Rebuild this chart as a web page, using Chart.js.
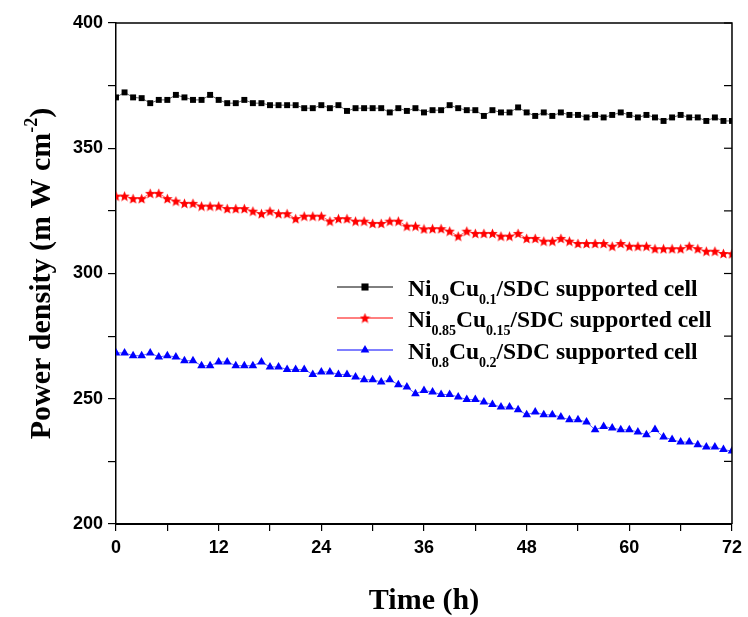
<!DOCTYPE html>
<html>
<head>
<meta charset="utf-8">
<script src="https://cdn.jsdelivr.net/npm/chart.js@4.4.0/dist/chart.umd.min.js"></script>
<style>
  html, body { margin: 0; padding: 0; background: #fff; }
  canvas { display: block; }
</style>
</head>
<body>
<canvas id="chart" width="748" height="617"></canvas>
<script>
// time in hours, one reading per hour
const hours = [];
for (let h = 0; h <= 72; h++) hours.push(h);

const ni09 = [370.3, 372.3, 370.3, 370.0, 368.0, 369.3, 369.3, 371.3, 370.3, 369.3,
  369.3, 371.3, 369.3, 368.0, 368.0, 369.3, 368.0, 368.0, 367.2, 367.2,
  367.2, 367.2, 366.0, 366.0, 367.2, 366.0, 367.2, 364.9, 366.0, 366.0,
  366.0, 366.0, 364.3, 366.0, 364.9, 366.0, 364.3, 365.2, 365.2, 367.2,
  366.0, 365.2, 365.2, 362.9, 365.2, 364.3, 364.3, 366.3, 364.3, 362.9,
  364.3, 362.9, 364.3, 363.3, 363.3, 362.3, 363.3, 362.3, 363.3, 364.3,
  363.3, 362.3, 363.3, 362.3, 360.9, 362.3, 363.3, 362.3, 362.3, 360.9,
  362.3, 360.9, 360.9];

const ni085 = [330.9, 330.9, 329.9, 329.9, 332.0, 332.0, 329.9, 328.9, 328.0, 328.0,
  326.9, 326.9, 326.9, 325.9, 325.9, 325.9, 324.9, 323.9, 324.9, 323.9,
  323.9, 321.9, 322.9, 322.9, 322.9, 320.9, 321.9, 321.9, 320.9, 320.9,
  320.0, 320.0, 320.9, 320.9, 318.9, 318.9, 317.8, 317.9, 317.9, 316.9,
  314.9, 316.9, 316.0, 316.0, 316.0, 314.9, 314.9, 316.0, 314.0, 314.0,
  312.9, 312.9, 314.0, 312.9, 312.0, 312.0, 312.0, 312.0, 310.9, 312.0,
  310.9, 310.9, 310.9, 309.9, 309.9, 309.9, 309.9, 310.9, 309.9, 308.9,
  308.9, 308.0, 307.9];

const ni08 = [268.3, 268.3, 267.2, 267.2, 268.3, 266.7, 267.2, 266.7, 265.2, 265.2,
  263.2, 263.2, 264.7, 264.7, 263.2, 263.2, 263.2, 264.7, 262.7, 262.7,
  261.7, 261.7, 261.7, 259.7, 260.7, 260.7, 259.7, 259.7, 258.7, 257.6,
  257.6, 256.7, 257.6, 255.6, 254.7, 252.0, 253.3, 252.7, 251.7, 251.7,
  250.7, 249.7, 249.7, 248.7, 247.7, 246.7, 246.7, 245.6, 243.6, 244.7,
  243.6, 243.6, 242.7, 241.6, 241.6, 240.7, 237.6, 238.9, 238.3, 237.6,
  237.6, 236.7, 235.6, 237.7, 234.7, 233.7, 232.7, 232.7, 231.6, 230.7,
  230.7, 229.7, 229.1];

// legend text pieces: [base, sub, base, sub, tail]
const legendParts = [
  ['Ni', '0.9', 'Cu', '0.1', '/SDC supported cell'],
  ['Ni', '0.85', 'Cu', '0.15', '/SDC supported cell'],
  ['Ni', '0.8', 'Cu', '0.2', '/SDC supported cell']
];
const seriesColors = ['#000000', '#ff0000', '#0000ff'];

const serif = '"Liberation Serif", "Times New Roman", serif';
const sans = '"Liberation Sans", Arial, sans-serif';

// filled 5-point star used as point marker
const starImg = document.createElement('canvas');
starImg.width = 11;
starImg.height = 11;
(function () {
  const c = starImg.getContext('2d');
  c.fillStyle = '#ff0000';
  c.beginPath();
  for (let i = 0; i < 10; i++) {
    const r = i % 2 === 0 ? 5.5 : 2.4;
    const a = -Math.PI / 2 + i * Math.PI / 5;
    const px = 5.5 + r * Math.cos(a);
    const py = 6 + r * Math.sin(a);
    if (i === 0) c.moveTo(px, py); else c.lineTo(px, py);
  }
  c.closePath();
  c.fill();
})();

const toPoints = (ys) => hours.map((h, i) => ({ x: h, y: ys[i] }));

const framePlugin = {
  id: 'frame',
  afterDraw(chart) {
    const ctx = chart.ctx;
    const a = chart.chartArea;
    const yScale = chart.scales.y;
    ctx.save();
    ctx.strokeStyle = '#000';
    ctx.lineWidth = 1.5;
    ctx.beginPath();
    ctx.moveTo(a.left, a.top);
    ctx.lineTo(a.right, a.top);
    ctx.lineTo(a.right, a.bottom);
    ctx.stroke();
    // inward ticks on the right side
    ctx.lineWidth = 1.2;
    yScale.ticks.forEach((t) => {
      const py = yScale.getPixelForValue(t.value);
      ctx.beginPath();
      ctx.moveTo(a.right, py);
      ctx.lineTo(a.right - 8, py);
      ctx.stroke();
    });

    // legend
    const rows = [287, 318, 350];
    const markers = ['rect', starImg, 'triangle'];
    rows.forEach((ry, i) => {
      ctx.strokeStyle = seriesColors[i];
      ctx.lineWidth = 1;
      ctx.beginPath();
      ctx.moveTo(337, ry);
      ctx.lineTo(393, ry);
      ctx.stroke();
      ctx.fillStyle = seriesColors[i];
      Chart.helpers.drawPoint(ctx, {
        pointStyle: markers[i], radius: 5, rotation: 0, borderWidth: 0
      }, 365, ry);
      ctx.fillStyle = '#000';
      ctx.textBaseline = 'alphabetic';
      ctx.textAlign = 'left';
      let tx = 408;
      legendParts[i].forEach((p, k) => {
        const isSub = k === 1 || k === 3;
        ctx.font = isSub ? 'bold 14px ' + serif : 'bold 23.5px ' + serif;
        ctx.fillText(p, tx, isSub ? ry + 17 : ry + 9);
        tx += ctx.measureText(p).width;
      });
    });

    // axis titles
    ctx.fillStyle = '#000';
    ctx.font = 'bold 30px ' + serif;
    ctx.textAlign = 'center';
    ctx.textBaseline = 'alphabetic';
    ctx.fillText('Time (h)', (a.left + a.right) / 2, 609);

    ctx.save();
    ctx.translate(50, (a.top + a.bottom) / 2);
    ctx.rotate(-Math.PI / 2);
    const main = 'Power density (m W cm';
    const sup = '-2';
    const close = ')';
    ctx.font = 'bold 30px ' + serif;
    const w1 = ctx.measureText(main).width;
    const w3 = ctx.measureText(close).width;
    ctx.font = 'bold 18px ' + serif;
    const w2 = ctx.measureText(sup).width;
    let sx = -(w1 + w2 + w3) / 2;
    ctx.textAlign = 'left';
    ctx.font = 'bold 30px ' + serif;
    ctx.fillText(main, sx, 0);
    sx += w1;
    ctx.font = 'bold 18px ' + serif;
    ctx.fillText(sup, sx, -13);
    sx += w2;
    ctx.font = 'bold 30px ' + serif;
    ctx.fillText(close, sx, 0);
    ctx.restore();
    ctx.restore();
  }
};

new Chart(document.getElementById('chart'), {
  type: 'line',
  data: {
    datasets: [
      {
        label: 'Ni0.9Cu0.1/SDC supported cell',
        data: toPoints(ni09),
        borderColor: '#000',
        backgroundColor: '#000',
        borderWidth: 0.6,
        pointStyle: 'rect',
        pointRadius: 4.2,
        pointBorderWidth: 0
      },
      {
        label: 'Ni0.85Cu0.15/SDC supported cell',
        data: toPoints(ni085),
        borderColor: '#ff0000',
        backgroundColor: '#ff0000',
        borderWidth: 0.6,
        pointStyle: starImg,
        pointRadius: 5
      },
      {
        label: 'Ni0.8Cu0.2/SDC supported cell',
        data: toPoints(ni08),
        borderColor: '#0000ff',
        backgroundColor: '#0000ff',
        borderWidth: 0.6,
        pointStyle: 'triangle',
        pointRadius: 5,
        pointBorderWidth: 0
      }
    ]
  },
  options: {
    responsive: false,
    animation: false,
    devicePixelRatio: 1,
    layout: { padding: { top: 23, right: 16, left: 0, bottom: 0 } },
    plugins: {
      legend: { display: false },
      tooltip: { enabled: false }
    },
    scales: {
      x: {
        type: 'linear',
        min: 0,
        max: 72,
        afterFit: (s) => { s.height = 93; },
        border: { display: true, color: '#000', width: 2 },
        grid: { drawOnChartArea: false, drawTicks: true, tickLength: 7, color: '#000', lineWidth: 1.2 },
        ticks: {
          stepSize: 6,
          autoSkip: false,
          maxRotation: 0,
          padding: 6,
          color: '#000',
          font: { family: sans, weight: 'bold', size: 18 },
          callback: (v) => (v % 12 === 0 ? v : '')
        }
      },
      y: {
        min: 200,
        max: 400,
        afterFit: (s) => { s.width = 116; },
        border: { display: true, color: '#000', width: 1.5 },
        grid: { drawOnChartArea: false, drawTicks: true, tickLength: 8, color: '#000', lineWidth: 1.2 },
        ticks: {
          stepSize: 25,
          autoSkip: false,
          padding: 5,
          color: '#000',
          font: { family: sans, weight: 'bold', size: 18 },
          callback: (v) => (v % 50 === 0 ? v : '')
        }
      }
    }
  },
  plugins: [framePlugin]
});
</script>
</body>
</html>
